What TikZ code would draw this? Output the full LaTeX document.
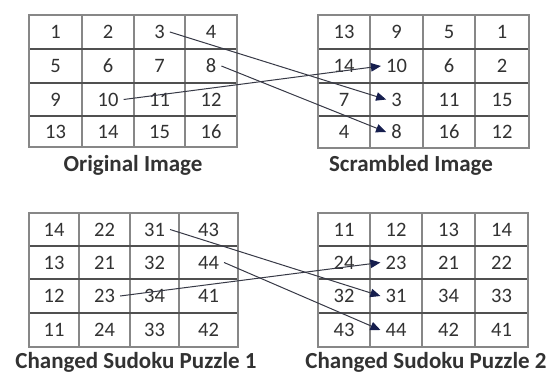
\documentclass[tikz,border=0pt]{standalone}
\usepackage{fontspec}
\setmainfont{Carlito}
\usetikzlibrary{arrows.meta}
\definecolor{txt}{RGB}{50,50,50}
\definecolor{frame}{RGB}{135,135,135}
\definecolor{hline}{RGB}{80,80,80}
\definecolor{arrline}{RGB}{55,57,70}
\definecolor{arrhead}{RGB}{22,30,78}
\tikzset{
  num/.style={text=txt,font=\fontsize{20.5}{22}\selectfont,inner xsep=5pt,inner ysep=2pt},
  caption/.style={text=txt,font=\bfseries\fontsize{23}{25}\selectfont,inner sep=0pt},
  vline/.style={draw=frame,line width=1.2pt},
  hrule/.style={draw=hline,line width=1.4pt},
  border/.style={draw=frame,line width=1.3pt},
  arr/.style={draw=arrline,line width=1pt,-{Triangle[length=10pt,width=8.5pt,color=arrhead]}}
}
\newcommand\drawgrid[4]{%
  \foreach \k in {1,2,3}{
    \pgfmathsetmacro\xx{{#2}[\k]}
    \pgfmathsetmacro\ya{{#3}[0]}
    \pgfmathsetmacro\yb{{#3}[4]}
    \draw[vline] (\xx,\ya) -- (\xx,\yb);
  }
  \foreach \k in {1,2,3}{
    \pgfmathsetmacro\yy{{#3}[\k]}
    \pgfmathsetmacro\xa{{#2}[0]}
    \pgfmathsetmacro\xb{{#2}[4]}
    \draw[hrule] (\xa,\yy) -- (\xb,\yy);
  }
  \pgfmathsetmacro\xa{{#2}[0]}
  \pgfmathsetmacro\xb{{#2}[4]}
  \pgfmathsetmacro\ya{{#3}[0]}
  \pgfmathsetmacro\yb{{#3}[4]}
  \draw[border] (\xa,\ya) rectangle (\xb,\yb);
  \foreach \v [count=\k from 0] in {#4}{
    \pgfmathtruncatemacro\rr{int(\k/4)}
    \pgfmathtruncatemacro\cc{mod(\k,4)}
    \pgfmathtruncatemacro\rn{\rr+1}
    \pgfmathtruncatemacro\cn{\cc+1}
    \pgfmathsetmacro\xl{{#2}[\cc]}
    \pgfmathsetmacro\xr{{#2}[\cn]}
    \pgfmathsetmacro\yt{{#3}[\rr]}
    \pgfmathsetmacro\yu{{#3}[\rn]}
    \pgfmathsetmacro\xm{(\xl+\xr)/2}
    \pgfmathsetmacro\ym{(\yt+\yu)/2}
    \node[num] (#1-\v) at (\xm,\ym) {\v};
  }
}
\begin{document}
\begin{tikzpicture}[x=1pt,y=-1pt]
\useasboundingbox (0,0) rectangle (553,375);
\fill[white] (0,0) rectangle (553,375);
\drawgrid{A}{29,82,134,185,237}{15,49,83,116,147}{1,2,3,4,5,6,7,8,9,10,11,12,13,14,15,16}
\drawgrid{B}{318,370,423,475,529}{15,49,83,116,148}{13,9,5,1,14,10,6,2,7,3,11,15,4,8,16,12}
\drawgrid{C}{29,79,130,179,238}{213,246,279,313,347}{14,22,31,43,13,21,32,44,12,23,34,41,11,24,33,42}
\drawgrid{D}{318,370,422,475,528}{213,246,279,313,347}{11,12,13,14,24,23,21,22,32,31,34,33,43,44,42,41}
\node[caption] (capA) at (133,165) {Original Image};
\node[caption] (capB) at (411,165) {Scrambled Image};
\node[caption] (capC) at (136,362) {Changed Sudoku Puzzle 1};
\node[caption] (capD) at (426,362) {Changed Sudoku Puzzle 2};
\draw[arr] (A-3.east) -- (B-3.west);
\draw[arr] (A-8.east) -- (B-8.west);
\draw[arr] (A-10.east) -- (B-10.west);
\draw[arr] (C-31.east) -- (D-31.west);
\draw[arr] (C-44.east) -- (D-44.west);
\draw[arr] (C-23.east) -- (D-23.west);
\end{tikzpicture}
\end{document}
